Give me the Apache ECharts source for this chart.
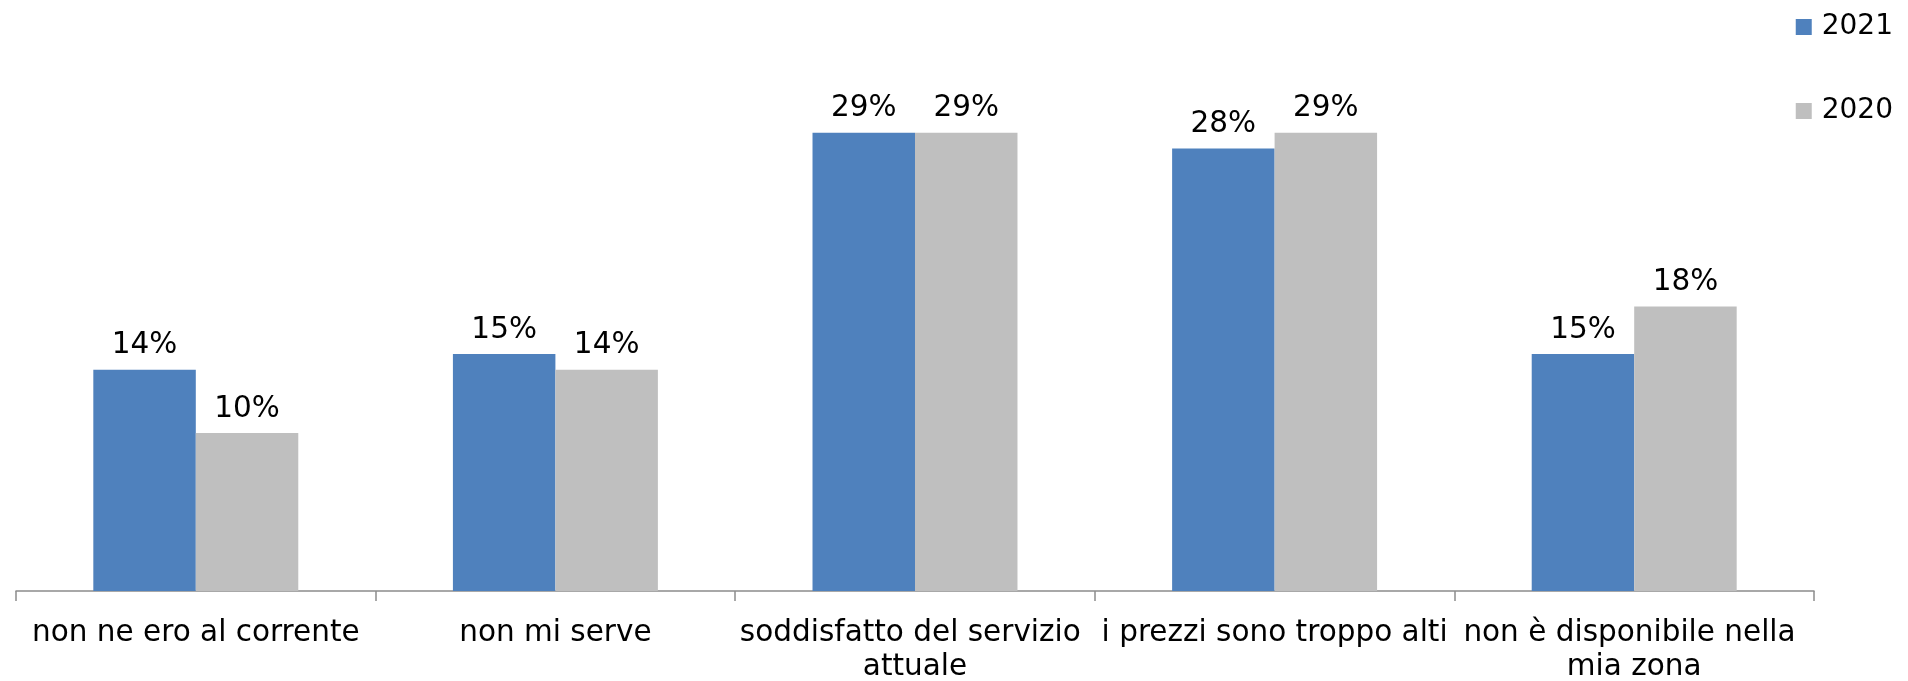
<!DOCTYPE html>
<html>
<head>
<meta charset="utf-8">
<style>html,body{margin:0;padding:0;background:#fff;}#c{width:1908px;height:681px;}</style>
<script src="https://cdn.jsdelivr.net/npm/echarts@6/dist/echarts.min.js"></script>
</head>
<body>
<div id="c"></div>
<script>
const categories = ['non ne ero al corrente', 'non mi serve', 'soddisfatto del servizio attuale', 'i prezzi sono troppo alti', 'non è disponibile nella mia zona'];
const values2021 = [14, 15, 29, 28, 15];
const values2020 = [10, 14, 29, 29, 18];
const seriesNames = ['2021', '2020'];

const FONT = 'DejaVu Sans';
const FS = 29.5;
const chart = echarts.init(document.getElementById('c'), null, {renderer: 'canvas'});
const labelStyle = {
  show: true, position: 'top', distance: 9,
  formatter: p => p.value + '%',
  color: '#000', fontFamily: FONT, fontSize: FS
};
chart.setOption({
  animation: false,
  backgroundColor: '#fff',
  grid: {left: 16, right: 94, top: 117, bottom: 90, containLabel: false, outerBoundsMode: 'none'},
  legend: {
    orient: 'vertical', right: 10, top: 6,
    itemWidth: 16, itemHeight: 16, itemGap: 52,
    icon: 'rect',
    data: seriesNames,
    textStyle: {fontFamily: FONT, fontSize: 28, color: '#000', lineHeight: 32, padding: [0, 0, 0, 5]}
  },
  xAxis: {
    type: 'category', data: categories,
    axisLine: {lineStyle: {color: '#8c8c8c', width: 1.5}},
    axisTick: {show: true, length: 10, lineStyle: {color: '#8c8c8c', width: 1.5}},
    axisLabel: {
      interval: 0, margin: 25, color: '#000', fontFamily: FONT, fontSize: FS,
      lineHeight: 34, width: 360, overflow: 'break'
    }
  },
  yAxis: {type: 'value', min: 0, max: 30, show: false, splitLine: {show: false}},
  series: [
    {name: seriesNames[0], type: 'bar', data: values2021, barGap: '0%', barCategoryGap: '43%',
     itemStyle: {color: '#4F81BD'}, label: labelStyle},
    {name: seriesNames[1], type: 'bar', data: values2020, barGap: '0%', barCategoryGap: '43%',
     itemStyle: {color: '#BFBFBF'}, label: labelStyle}
  ]
});
</script>
</body>
</html>
